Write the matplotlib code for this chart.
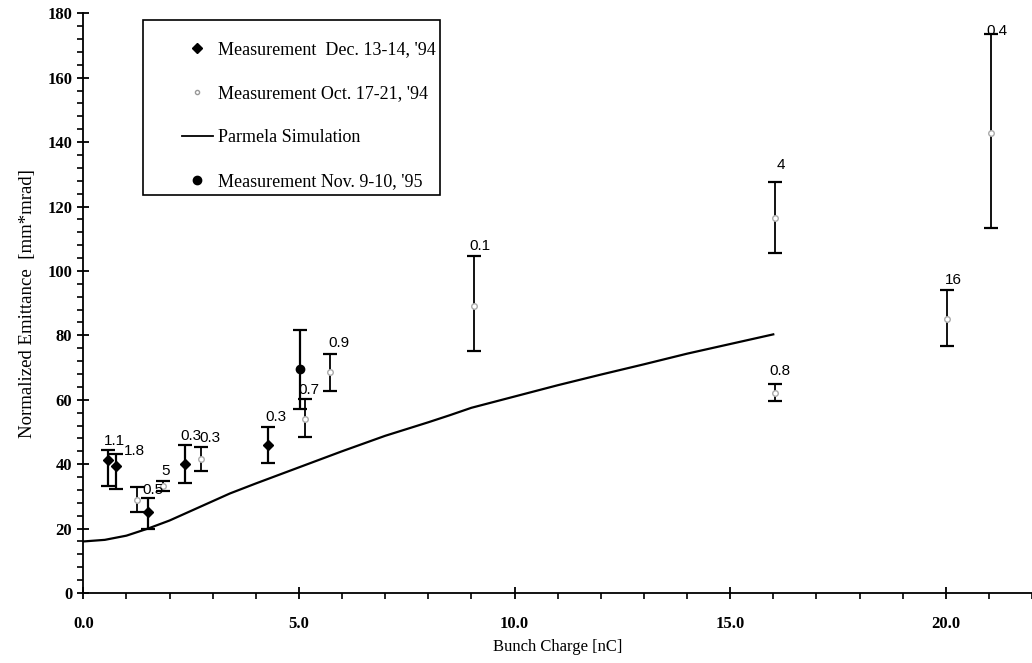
import matplotlib.pyplot as plt
from matplotlib.lines import Line2D
from matplotlib.patches import Rectangle
from matplotlib.ticker import MultipleLocator, FormatStrFormatter

# Measurement Dec. 13-14, '94 (filled diamonds)
dec_x = [0.58, 0.76, 1.50, 2.36, 4.29]
dec_y = [41.4, 39.3, 25.2, 40.2, 46.1]
dec_lo = [33.1, 32.4, 20.0, 34.0, 40.4]
dec_hi = [44.5, 43.3, 29.6, 45.9, 51.6]
dec_labels = ['1.1', '1.8', '', '0.3', '0.3']

# Measurement Oct. 17-21, '94 (open markers)
oct_x = [1.24, 1.85, 2.74, 5.14, 5.72, 9.06, 16.04, 16.04, 20.04, 21.06]
oct_y = [29.0, 33.2, 41.6, 54.0, 68.5, 89.0, 116.3, 62.0, 85.2, 142.7]
oct_lo = [25.2, 31.7, 37.9, 48.5, 62.6, 75.0, 105.7, 59.6, 76.6, 113.2]
oct_hi = [32.9, 34.8, 45.3, 60.1, 74.3, 104.5, 127.7, 65.0, 94.2, 173.7]
oct_labels = ['0.5', '5', '0.3', '0.7', '0.9', '0.1', '4', '0.8', '16', '0.4']

# Measurement Nov. 9-10, '95 (filled circle)
nov_x = [5.02]
nov_y = [69.7]
nov_lo = [57.0]
nov_hi = [81.8]

# Parmela simulation
sim_x = [0, 0.5, 1, 1.5, 2, 3, 3.4, 4, 5, 6, 7, 8, 8.5, 9, 10, 11, 12, 13, 14, 15, 16]
sim_y = [16.0, 16.5, 17.8, 20.0, 22.5, 28.5, 30.9, 34.0, 39.0, 44.0, 48.8, 53.0,
         55.2, 57.5, 61.0, 64.5, 67.8, 71.0, 74.3, 77.3, 80.3]

leg_labels = ["Measurement  Dec. 13-14, '94", "Measurement Oct. 17-21, '94",
              'Parmela Simulation', "Measurement Nov. 9-10, '95"]

# label offsets in pixels (dx, dy) from top of error bar
dec_off = [(-4, 2), (8, -4), (0, 0), (-5, 2), (-3, 3)]
oct_off = [(6, -10), (-2, 3), (-2, 2), (-7, 2), (-2, 4), (-5, 3), (2, 10), (-6, 6), (-3, 3), (-5, -4)]

plt.rcParams['font.family'] = 'Liberation Serif'

fig = plt.figure(figsize=(10.32, 6.63), dpi=100)
ax = fig.add_axes([0.0807, 0.1056, 0.9193, 0.8744])


def errs(y, lo, hi):
    return [[v - l for v, l in zip(y, lo)], [h - v for v, h in zip(y, hi)]]


ax.errorbar(dec_x, dec_y, yerr=errs(dec_y, dec_lo, dec_hi), fmt='D', color='black',
            ms=5, capsize=5, elinewidth=1.6, capthick=1.6, zorder=3)
ax.errorbar(oct_x, oct_y, yerr=errs(oct_y, oct_lo, oct_hi), fmt='o', color='black',
            mfc='white', mec='#aaaaaa', ms=4, capsize=5, elinewidth=1.3, capthick=1.6, zorder=3)
ax.plot(sim_x, sim_y, color='black', lw=1.6)
ax.errorbar(nov_x, nov_y, yerr=errs(nov_y, nov_lo, nov_hi), fmt='o', color='black',
            ms=6, capsize=5, elinewidth=1.6, capthick=1.6, zorder=3)

# data labels
for x, h, t, (dx, dy) in zip(dec_x + oct_x, dec_hi + oct_hi, dec_labels + oct_labels, dec_off + oct_off):
    if t:
        ax.annotate(t, (x, h), xytext=(dx * 0.72, dy * 0.72), textcoords='offset points',
                    ha='left', va='bottom', fontsize=11, family='Liberation Sans', zorder=4)

ax.set_xlim(0, 22)
ax.set_ylim(0, 180)
ax.xaxis.set_major_locator(MultipleLocator(5))
ax.xaxis.set_minor_locator(MultipleLocator(1))
ax.xaxis.set_major_formatter(FormatStrFormatter('%.1f'))
ax.yaxis.set_major_locator(MultipleLocator(20))
ax.yaxis.set_minor_locator(MultipleLocator(4))

ax.spines['top'].set_visible(False)
ax.spines['right'].set_visible(False)
ax.spines['left'].set_linewidth(1.3)
ax.spines['bottom'].set_linewidth(1.3)
ax.tick_params(which='major', direction='inout', length=9, width=1.3)
ax.tick_params(which='minor', direction='out', length=4, width=1.2)
ax.tick_params(axis='x', which='major', pad=12)
for lab in ax.get_xticklabels() + ax.get_yticklabels():
    lab.set_fontweight('bold')
    lab.set_fontsize(12)

ax.set_xlabel('Bunch Charge [nC]', fontsize=12, labelpad=5)
ax.set_ylabel('Normalized Emittance  [mm*mrad]', fontsize=13.5, labelpad=8)

# legend: proxy handles, frame drawn separately
handles = [Line2D([], [], ls='none', marker='D', color='black', ms=5),
           Line2D([], [], ls='none', marker='o', mfc='white', mec='#999999', ms=3),
           Line2D([], [], color='black', lw=1.3),
           Line2D([], [], ls='none', marker='o', color='black', ms=6)]
ax.add_patch(Rectangle((0.0629, 0.6866), 0.3131, 0.3018, transform=ax.transAxes,
                       fill=True, facecolor='white', edgecolor='black', lw=1.2, zorder=5))
leg = ax.legend(handles, leg_labels, loc='upper left', bbox_to_anchor=(0.104, 0.952),
                fontsize=13, frameon=False, labelspacing=1.5, borderpad=0,
                handlelength=1.7, handletextpad=0.3, borderaxespad=0)
leg.set_zorder(6)

fig.savefig('out.png', dpi=100)
